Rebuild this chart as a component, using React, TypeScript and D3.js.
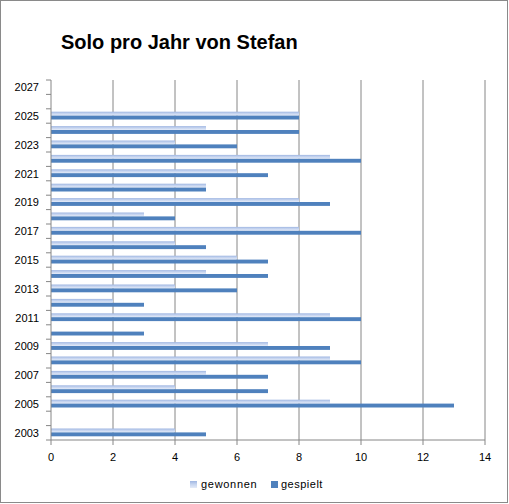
import React from "react";
import * as d3 from "d3";

const years = d3.range(2003, 2028).map(String);
const gewonnen = [4, 0, 9, 4, 5, 9, 7, 0, 9, 2, 4, 5, 6, 4, 8, 3, 8, 5, 6, 9, 4, 5, 8, 0, 0];
const gespielt = [5, 0, 13, 7, 7, 10, 9, 3, 10, 3, 6, 7, 7, 5, 10, 4, 9, 5, 7, 10, 6, 8, 8, 0, 0];
const xTicks = [0, 2, 4, 6, 8, 10, 12, 14];
const yLabels = years.filter((y) => +y % 2 === 1);
const title = "Solo pro Jahr von Stefan";
const seriesNames = ["gewonnen", "gespielt"];

const W = 509;
const H = 504;
const FONT = "'Liberation Sans', Arial, sans-serif";

export default function App() {
  const x = d3.scaleLinear().domain([0, 14]).range([51, 485]);
  const y = d3.scaleBand().domain([...years].reverse()).range([80, 440]).padding(0);
  const bw = y.bandwidth();
  const barH = 3.9;
  const grid = "#868686";

  return (
    <svg
      width={W}
      height={H}
      style={{ position: "absolute", left: 0, top: 0, background: "#fff" }}
      fontFamily={FONT}
    >
      <defs>
        <linearGradient id="lightGrad" x1="0" y1="0" x2="0" y2="1">
          <stop offset="0%" stopColor="#9fb6e2" />
          <stop offset="45%" stopColor="#c4d3ef" />
          <stop offset="100%" stopColor="#e4ebf8" />
        </linearGradient>
      </defs>
      <rect x={0.5} y={0.5} width={W - 2} height={H - 2} fill="#fff" stroke="#8a8a8a" strokeWidth={1} />
      <text x={61} y={49} fontSize={20} fontWeight="bold" fill="#000">
        {title}
      </text>

      {/* vertical gridlines */}
      {xTicks.slice(1).map((t) => (
        <line key={"g" + t} x1={x(t)} x2={x(t)} y1={80} y2={440} stroke={grid} strokeWidth={1} />
      ))}

      {/* bars */}
      {years.map((yr, i) => {
        const c = (y(yr) as number) + bw / 2 - 0.4;
        return (
          <g key={yr}>
            {gewonnen[i] > 0 && (
              <rect x={x(0)} y={c - barH} width={x(gewonnen[i]) - x(0)} height={barH} fill="url(#lightGrad)" />
            )}
            {gespielt[i] > 0 && (
              <rect x={x(0)} y={c} width={x(gespielt[i]) - x(0)} height={barH} fill="#4f81bd" />
            )}
          </g>
        );
      })}

      {/* axes */}
      <line x1={x(0)} x2={x(0)} y1={80} y2={440} stroke={grid} />
      <line x1={x(0)} x2={x(14)} y1={440} y2={440} stroke={grid} />
      {years.map((yr) => (
        <line key={"yt" + yr} x1={46} x2={x(0)} y1={y(yr) as number} y2={y(yr) as number} stroke={grid} />
      ))}
      <line x1={46} x2={x(0)} y1={440} y2={440} stroke={grid} />
      {xTicks.map((t) => (
        <line key={"xt" + t} x1={x(t)} x2={x(t)} y1={440} y2={445} stroke={grid} />
      ))}

      {/* labels */}
      {yLabels.map((yr) => (
        <text key={"yl" + yr} x={39} y={(y(yr) as number) + bw / 2 + 4} fontSize={11} textAnchor="end" fill="#000">
          {yr}
        </text>
      ))}
      {xTicks.map((t) => (
        <text key={"xl" + t} x={x(t)} y={461} fontSize={11} textAnchor="middle" fill="#000">
          {t}
        </text>
      ))}

      {/* legend */}
      <rect x={190} y={481} width={7} height={7} fill="url(#lightGrad)" />
      <text x={201} y={488} fontSize={11} letterSpacing={0.7} fill="#000">
        {seriesNames[0]}
      </text>
      <rect x={271} y={481} width={7} height={7} fill="#4f81bd" />
      <text x={281} y={488} fontSize={11} letterSpacing={0.5} fill="#000">
        {seriesNames[1]}
      </text>
    </svg>
  );
}
